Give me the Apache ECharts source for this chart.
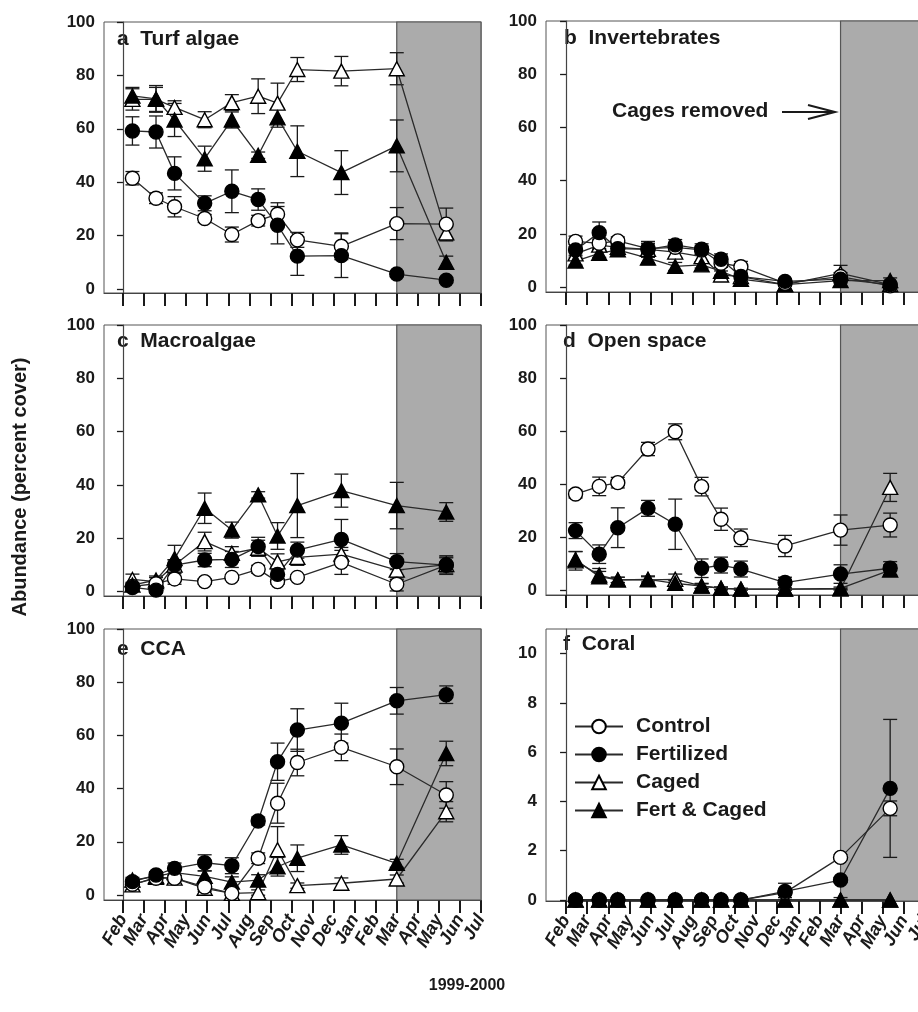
<!DOCTYPE html>
<html><head><meta charset="utf-8">
<script src="https://cdn.jsdelivr.net/npm/echarts@6/dist/echarts.min.js"></script>
<style>html,body{margin:0;padding:0;background:#fff}#c{width:918px;height:1012px}</style>
</head><body><div id="c"></div>
<script>
// ---------- DATA ----------
const monthLabels = ['Feb','Mar','Apr','May','Jun','Jul','Aug','Sep','Oct','Nov','Dec','Jan','Feb','Mar','Apr','May','Jun','Jul'];
const monthTicks = [0,1,2,3,4,5,6,7,8,9,10,11,12,13,14,15,16,17];
const sampleX = [0.45, 1.57, 2.45, 3.88, 5.17, 6.42, 7.34, 8.28, 10.37, 13.0, 15.35];
const cageRemoval = 13;
const treatments = ['Control','Fertilized','Caged','Fert & Caged'];
const pctTicks = [0,20,40,60,80,100];
const coralTicks = [0,2,4,6,8,10];

// a Turf algae
const aControl = [41.5, 34, 30.8, 26.4, 20.4, 25.6, 28, 18.4, 16, 24.5, 24.3];
const aControlErr = [2.5, 2, 3.8, 1.5, 2.8, 2, 4.3, 2.8, 5, 6, 6];
const aFert = [59.2, 58.8, 43.3, 32.1, 36.6, 33.5, 23.9, 12.3, 12.5, 5.6, 3.3];
const aFertErr = [5.3, 6, 6.2, 2.8, 8, 4, 7, 7.2, 8.2, 1, 1];
const aCaged = [71, 71, 68, 63.4, 69.8, 72.2, 69.6, 82.2, 81.6, 82.5, 21];
const aCagedErr = [4, 4.5, 2.5, 3, 3, 6.5, 7.5, 4.5, 5.5, 6, 3];
const aFC = [72.3, 71.2, 63.3, 48.8, 63.3, 50.1, 64.1, 51.6, 43.6, 53.6, 10];
const aFCErr = [3.2, 5, 6.2, 4.7, 3, 1.2, 3.5, 9.5, 8.2, 9.7, 2.3];
// b Invertebrates
const bControl = [17.2, 16.5, 17.4, 14.5, 15, 14, 9, 7.7, 1.5, 4, 0.5];
const bControlErr = [2, 2, 1.5, 2, 1.5, 1.5, 1.5, 2, 0.8, 1.5, 0.8];
const bFert = [14, 20.5, 14.5, 14.2, 15.9, 14.3, 10.5, 4, 2.2, 3, 1];
const bFertErr = [2, 4, 1.5, 2, 2, 2, 2, 1.2, 0.8, 1.2, 0.8];
const bCaged = [12.5, 15.8, 15, 14.2, 13.2, 11.5, 4.6, 4, 1, 5.2, 1];
const bCagedErr = [2, 2, 1.5, 3, 2, 2, 1.5, 1, 0.5, 3, 0.8];
const bFC = [9.8, 12.7, 14, 10.9, 7.8, 8.4, 6, 3, 1, 2.5, 2.5];
const bFCErr = [1.5, 1.5, 1.5, 1.8, 1.5, 1.2, 1.5, 1, 0.5, 1, 1];
// c Macroalgae
const cControl = [2, 3, 4.8, 3.8, 5.4, 8.4, 3.8, 5.4, 11, 2.8, 10];
const cControlErr = [1, 1, 2, 1, 1, 1.5, 1, 1, 4.5, 2.5, 3];
const cFert = [1.6, 0.6, 10, 11.9, 12.1, 16.9, 6.5, 15.6, 19.6, 11.3, 10];
const cFertErr = [1, 1, 2, 2.5, 3, 3.5, 3, 3, 7.5, 3, 3.5];
const cCaged = [4.6, 3.8, 10, 18.8, 14.4, 16.3, 11.2, 12.9, 14.1, 8.1, 10.2];
const cCagedErr = [2, 1.5, 2, 3.5, 2.5, 3, 3, 3, 2.5, 3.5, 2.5];
const cFC = [2.5, 4.4, 12.4, 31.3, 23.1, 36.3, 20.9, 32.3, 37.9, 32.3, 29.9];
const cFCErr = [1, 1.5, 5, 5.7, 3, 1.2, 5, 12, 6.2, 8.7, 3.5];
// d Open space
const dControl = [36.2, 39.1, 40.5, 53.2, 59.7, 39, 26.7, 19.7, 16.6, 22.6, 24.5];
const dControlErr = [1.5, 3.5, 2, 2.5, 3, 3.5, 4.2, 3.3, 4, 5.7, 4.5];
const dFert = [22.4, 13.5, 23.5, 30.8, 24.8, 8.2, 9.4, 7.9, 2.8, 6, 8.2];
const dFertErr = [3, 3.5, 7.5, 3, 9.5, 3.5, 3, 3, 2, 3.5, 2.5];
const dCaged = [11, 5.6, 3.8, 3.8, 4, 1.5, 0.6, 0.3, 0.3, 0.3, 38.7];
const dCagedErr = [3.5, 2.5, 1, 1.5, 2, 1, 0.5, 0.3, 0.3, 0.3, 5.3];
const dFC = [11.5, 5, 3.8, 4, 2.5, 1.5, 0.6, 0.3, 0.3, 0.6, 7.5];
const dFCErr = [3, 2, 1, 1, 1, 0.8, 0.5, 0.3, 0.3, 0.5, 2];
// e CCA
const eControl = [4, 6.3, 6.3, 3, 0.6, 13.8, 34.5, 49.8, 55.5, 48.2, 37.6];
const eControlErr = [1, 1, 1, 1, 0.8, 2, 7.5, 5, 5, 6.7, 5];
const eFert = [5, 7.5, 10, 12.1, 11, 27.8, 50.1, 62, 64.6, 73, 75.3];
const eFertErr = [1, 1.2, 2, 3, 3, 1.5, 7, 8, 7.5, 5, 3.3];
const eCaged = [3.8, 6.6, 6.3, 2.5, 0.6, 0.9, 17, 3.5, 4.4, 6, 31.3];
const eCagedErr = [1, 1, 1, 1.2, 0.8, 1, 8.7, 1, 2, 1.5, 3.8];
const eFC = [5.6, 7, 8.4, 7, 4.8, 5.6, 10.6, 13.8, 18.8, 11.9, 53.2];
const eFCErr = [1, 1.2, 1.5, 2, 2, 2, 3.5, 5, 3.5, 1.5, 4.6];
// f Coral
const fControl = [0, 0, 0, 0, 0, 0, 0, 0, 0.3, 1.73, 3.72];
const fControlErr = [0, 0, 0, 0, 0, 0, 0, 0, 0.1, 0.1, 0.3];
const fFert = [0, 0, 0, 0, 0, 0, 0, 0, 0.35, 0.81, 4.53];
const fFertErr = [0, 0, 0, 0, 0, 0, 0, 0, 0.33, 0.1, 2.8];
const fCaged = [0, 0, 0, 0, 0, 0, 0, 0, 0, 0, 0];
const fCagedErr = [0, 0, 0, 0, 0, 0, 0, 0, 0, 0, 0];
const fFC = [0, 0, 0, 0, 0, 0, 0, 0, 0, 0, 0];
const fFCErr = [0, 0, 0, 0, 0, 0, 0, 0, 0.1, 0.1, 0];

const panelLetters = ['a','b','c','d','e','f'];
const panelNames = ['Turf algae','Invertebrates','Macroalgae','Open space','CCA','Coral'];
const panelValues = [
  [aControl, aFert, aCaged, aFC], [bControl, bFert, bCaged, bFC],
  [cControl, cFert, cCaged, cFC], [dControl, dFert, dCaged, dFC],
  [eControl, eFert, eCaged, eFC], [fControl, fFert, fCaged, fFC]
];
const panelErrors = [
  [aControlErr, aFertErr, aCagedErr, aFCErr], [bControlErr, bFertErr, bCagedErr, bFCErr],
  [cControlErr, cFertErr, cCagedErr, cFCErr], [dControlErr, dFertErr, dCagedErr, dFCErr],
  [eControlErr, eFertErr, eCagedErr, eFCErr], [fControlErr, fFertErr, fCagedErr, fFCErr]
];

// ---------- LAYOUT / STYLE ----------
const FONT = '"Liberation Sans", Arial, sans-serif';
const INK = '#1a1a1a';
const grids = [
  {left:104, top:22, width:377, height:271},
  {left:546, top:21, width:379, height:271},
  {left:104, top:325, width:377, height:271},
  {left:546, top:325, width:379, height:270},
  {left:104, top:629, width:377, height:271},
  {left:546, top:629, width:379, height:272}
];
const xMins = [-0.9, -0.95, -0.9, -0.95, -0.9, -0.95];
const yRanges = [[-1.5,100],[-1.8,100],[-1.6,100],[-1.9,100],[-1.9,100],[-0.04,11]];
const titlePos = [[117,29],[564,28],[117,331],[563,331],[117,639],[563,634]];
const symbolOf = {
  'Control': {symbol:'circle', size:14, fill:'#fff'},
  'Fertilized': {symbol:'circle', size:14, fill:'#000'},
  'Caged': {symbol:'triangle', size:[15,14], fill:'#fff'},
  'Fert & Caged': {symbol:'triangle', size:[15,14], fill:'#000'}
};
const drawOrder = [2, 3, 0, 1]; // Caged, F&C, Control, Fert on top

function errRender(params, api) {
  const x = api.value(0), v = api.value(1), e = api.value(2);
  if (!(e > 0)) return;
  const hi = api.coord([x, v + e]), lo = api.coord([x, v - e]);
  const cw = 7;
  const st = {stroke: INK, lineWidth: 1.3};
  return {type:'group', children:[
    {type:'line', shape:{x1:hi[0], y1:hi[1], x2:lo[0], y2:lo[1]}, style:st},
    {type:'line', shape:{x1:hi[0]-cw, y1:hi[1], x2:hi[0]+cw, y2:hi[1]}, style:st},
    {type:'line', shape:{x1:lo[0]-cw, y1:lo[1], x2:lo[0]+cw, y2:lo[1]}, style:st}
  ]};
}

const xAxes = [], yAxes = [], series = [], graphics = [];
grids.forEach((g, i) => {
  const bottomRow = i >= 4;
  xAxes.push({
    gridIndex:i, type:'value', min:xMins[i], max:17,
    axisLine:{show:true, onZero:false, lineStyle:{color:'#444', width:1.2}},
    axisTick:{show:true, customValues:monthTicks, length:13, lineStyle:{color:INK, width:2}},
    axisLabel:{show:bottomRow, customValues:monthTicks, formatter:v => monthLabels[Math.round(v)],
      rotate:60, margin:16, fontSize:18, fontWeight:'bold', fontStyle:'italic', color:INK, fontFamily:FONT},
    splitLine:{show:false}
  });
  const yt = i === 5 ? coralTicks : pctTicks;
  yAxes.push({
    gridIndex:i, type:'value', min:yRanges[i][0], max:yRanges[i][1],
    axisLine:{show:true, lineStyle:{color:'#444', width:1.2}},
    axisTick:{show:true, customValues:yt, length:6, lineStyle:{color:INK, width:1.3}},
    axisLabel:{show:true, customValues:yt, margin:9, fontSize:17, fontWeight:'bold', color:INK, fontFamily:FONT},
    splitLine:{show:false}
  });
  // shaded "cages removed" period
  series.push({
    type:'line', xAxisIndex:i, yAxisIndex:i, data:[[cageRemoval, 0]], symbol:'none', silent:true, z:1,
    lineStyle:{opacity:0},
    markArea:{silent:true, itemStyle:{color:'#ababab', borderColor:'#555', borderWidth:1.2},
      data:[[{xAxis:cageRemoval},{xAxis:17}]]}
  });
  drawOrder.forEach(k => {
    const vals = panelValues[i][k], errs = panelErrors[i][k];
    series.push({
      type:'custom', xAxisIndex:i, yAxisIndex:i, renderItem:errRender, clip:true, silent:true, z:2,
      encode:{x:0, y:1},
      data: sampleX.map((x, j) => [x, vals[j], errs[j]])
    });
  });
  drawOrder.forEach(k => {
    const name = treatments[k];
    const s = symbolOf[name];
    series.push({
      name, type:'line', xAxisIndex:i, yAxisIndex:i, z:3, clip:false,
      data: sampleX.map((x, j) => [x, panelValues[i][k][j]]),
      symbol:s.symbol, symbolSize:s.size, showAllSymbol:true,
      lineStyle:{color:'#2a2a2a', width:1.3},
      itemStyle:{color:s.fill, borderColor:'#000', borderWidth:1.4, opacity:1},
      emphasis:{disabled:true}
    });
  });
  graphics.push({type:'text', left:titlePos[i][0], top:titlePos[i][1],
    style:{text:panelLetters[i] + '  ' + panelNames[i], font:'bold 21px ' + FONT, fill:INK}});
});

graphics.push({type:'text', x:20, y:487, rotation:Math.PI/2,
  style:{text:'Abundance (percent cover)', font:'bold 20px ' + FONT, fill:INK, align:'center', verticalAlign:'middle'}});
graphics.push({type:'text', x:467, y:986,
  style:{text:'1999-2000', font:'bold 16px ' + FONT, fill:INK, align:'center', verticalAlign:'middle'}});
graphics.push({type:'text', left:612, top:101,
  style:{text:'Cages removed', font:'bold 21px ' + FONT, fill:INK}});
graphics.push({type:'line', shape:{x1:782, y1:112, x2:834, y2:112}, style:{stroke:INK, lineWidth:2}});
graphics.push({type:'polyline', shape:{points:[[808,105],[835,112],[808,119]]}, style:{stroke:INK, lineWidth:2, fill:null}});

const chart = echarts.init(document.getElementById('c'), null, {renderer:'canvas'});
chart.setOption({
  animation:false,
  backgroundColor:'#fff',
  grid: grids.map(g => Object.assign({show:true, borderColor:'#555', borderWidth:1, backgroundColor:'transparent',
    containLabel:false, outerBoundsMode:'none'}, g)),
  xAxis:xAxes, yAxis:yAxes, series,
  legend:{data:treatments, orient:'vertical', left:569, top:711, itemWidth:48, itemHeight:17, itemGap:7,
    selectedMode:false, textStyle:{fontSize:21, fontWeight:'bold', color:INK, fontFamily:FONT, padding:[0,0,0,8]}},
  graphic:graphics
});
</script></body></html>
